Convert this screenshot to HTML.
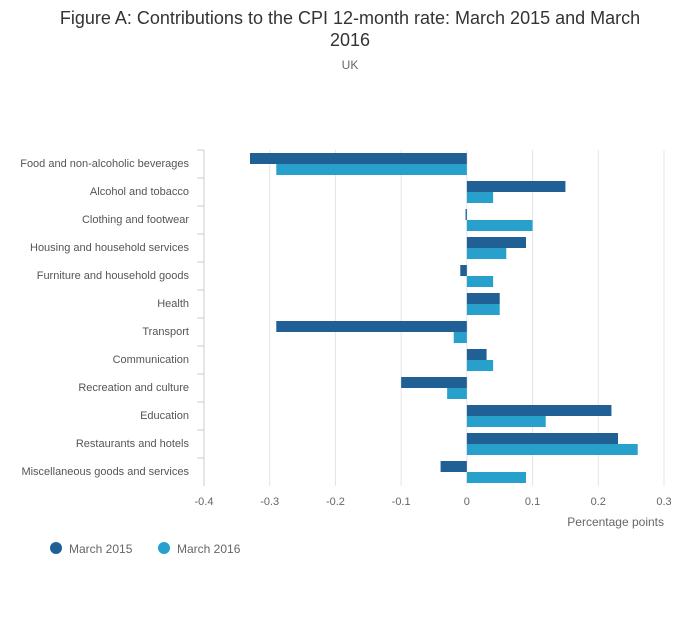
<!DOCTYPE html>
<html><head><meta charset="utf-8"><style>
body{margin:0;background:#fff;font-family:"Liberation Sans",sans-serif;}
</style></head><body>
<svg width="700" height="635" xmlns="http://www.w3.org/2000/svg" font-family="Liberation Sans, sans-serif">
<text x="350" y="24" text-anchor="middle" font-size="18" fill="#333">Figure A: Contributions to the CPI 12-month rate: March 2015 and March</text>
<text x="350" y="46" text-anchor="middle" font-size="18" fill="#333">2016</text>
<text x="350" y="69" text-anchor="middle" font-size="12" fill="#666">UK</text>
<g id="grid"></g><g id="bars"></g><g id="labels"></g>
<text x="664" y="526" text-anchor="end" font-size="12" fill="#666">Percentage points</text>
<circle cx="56" cy="548" r="6" fill="#206095"/>
<text x="69" y="553" font-size="12" fill="#666">March 2015</text>
<circle cx="164" cy="548" r="6" fill="#27a0cc"/>
<text x="177" y="553" font-size="12" fill="#666">March 2016</text>
</svg>
<script>
const categories=["Food and non-alcoholic beverages","Alcohol and tobacco","Clothing and footwear","Housing and household services","Furniture and household goods","Health","Transport","Communication","Recreation and culture","Education","Restaurants and hotels","Miscellaneous goods and services"];
const march2015=[-0.33,0.15,-0.002,0.09,-0.01,0.05,-0.29,0.03,-0.10,0.22,0.23,-0.04];
const march2016=[-0.29,0.04,0.10,0.06,0.04,0.05,-0.02,0.04,-0.03,0.12,0.26,0.09];
const ticks=[-0.4,-0.3,-0.2,-0.1,0,0.1,0.2,0.3];
const tickLabels=["-0.4","-0.3","-0.2","-0.1","0","0.1","0.2","0.3"];
const NS="http://www.w3.org/2000/svg";
const x=v=>204+(v+0.4)/0.7*460;
const top0=150,band=28;
function mk(t,a,p){const e=document.createElementNS(NS,t);for(const k in a)e.setAttribute(k,a[k]);p.appendChild(e);return e;}
const g=document.getElementById('grid'),b=document.getElementById('bars'),l=document.getElementById('labels');
ticks.forEach((t,i)=>{
 const ln=mk('line',{x1:x(t),x2:x(t),y1:top0,y2:top0+band*categories.length,stroke:i==0?'#ccc':'#e4e4e4','stroke-width':1},g);
 
 
 const tx=mk('text',{x:x(t),y:505,'text-anchor':'middle','font-size':11,fill:'#666'},l);
 tx.textContent=tickLabels[i];
 
 
});
categories.forEach((c,i)=>{
 const y0=top0+band*i;
 const tk=mk('line',{x1:197,x2:204,y1:y0,y2:y0,stroke:'#ccc'},g);
 
 
 const tx=mk('text',{x:189,y:y0+17,'text-anchor':'end','font-size':11,fill:'#555'},l);
 tx.textContent=c;
 
 
 [[march2015,'#206095',3],[march2016,'#27a0cc',14]].forEach(([arr,col,off])=>{
  const v=arr[i];const x1=Math.min(x(0),x(v)),w=Math.max(Math.abs(x(v)-x(0)),1);
  const r=mk('rect',{x:x1,y:y0+off,width:w,height:11,fill:col},b);
  
  
 });
});
</script>
</body></html>
